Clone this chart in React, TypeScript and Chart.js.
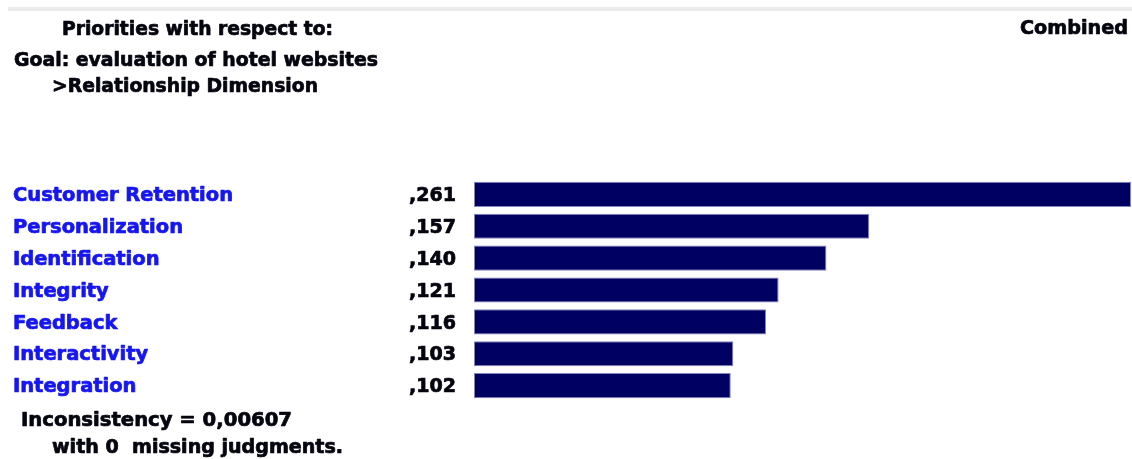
import React, { useEffect, useRef } from "react";
import { Chart, registerables } from "chart.js";

Chart.register(...registerables);

const categories = [
  "Customer Retention",
  "Personalization",
  "Identification",
  "Integrity",
  "Feedback",
  "Interactivity",
  "Integration",
];
const priorities = [0.261, 0.157, 0.14, 0.121, 0.116, 0.103, 0.102];
const valueLabels = [",261", ",157", ",140", ",121", ",116", ",103", ",102"];

const headerLine1 = "Priorities with respect to:";
const headerLine2 = "Goal: evaluation of hotel websites";
const headerLine3 = ">Relationship Dimension";
const headerRight = "Combined";
const footerLine1 = "Inconsistency = 0,00607";
const footerLine2 = "with 0  missing judgments.";

const FAMILY = '"DejaVu Sans", sans-serif';
const SIZE = 18.6;
const CAP = 0.729;

function measure(ctx: CanvasRenderingContext2D, text: string) {
  ctx.font = `bold ${SIZE}px ${FAMILY}`;
  return ctx.measureText(text).width;
}

const textPlugin = {
  id: "ahpText",
  beforeDraw(chart: any) {
    const ctx: CanvasRenderingContext2D = chart.ctx;
    ctx.save();
    ctx.fillStyle = "#ececec";
    ctx.fillRect(8, 7, chart.width - 8, 4);
    ctx.restore();
  },
  afterDraw(chart: any) {
    const ctx: CanvasRenderingContext2D = chart.ctx;
    const yScale = chart.scales.y;
    ctx.textBaseline = "alphabetic";

    const drawScaled = (
      text: string,
      left: number,
      sx: number,
      baseline: number,
      color: string,
      alignRight = false
    ) => {
      ctx.save();
      ctx.font = `bold ${SIZE}px ${FAMILY}`;
      ctx.fillStyle = color;
      ctx.strokeStyle = color;
      ctx.lineWidth = 0.7;
      ctx.lineJoin = "round";
      ctx.textAlign = alignRight ? "right" : "left";
      ctx.translate(left, baseline);
      ctx.scale(sx, 1);
      ctx.fillText(text, 0, 0);
      ctx.strokeText(text, 0, 0);
      ctx.restore();
    };
    const drawFit = (text: string, left: number, width: number, baseline: number, color: string) => {
      const sx = width / measure(ctx, text);
      drawScaled(text, left, sx, baseline, color);
    };

    const dark = "#05050f";
    drawFit(headerLine1, 62, 271, 35, dark);
    drawFit(headerLine2, 14, 364, 66, dark);
    drawFit(headerLine3, 52, 266, 91.7, dark);
    drawFit(headerRight, 1020, 108, 33.5, dark);
    drawFit(footerLine1, 21, 271, 425.5, dark);
    drawFit(footerLine2, 52, 291, 453, dark);

    const labelSx = 220 / measure(ctx, categories[0]);
    const valueSx = 47 / measure(ctx, valueLabels[0]);
    const half = SIZE * CAP * 0.5;
    categories.forEach((c, i) => {
      const yc = yScale.getPixelForValue(i);
      drawScaled(c, 13, labelSx, yc + half, "#1616f2");
      drawScaled(valueLabels[i], 456, valueSx, yc + half, dark, true);
    });
  },
};

export default function App() {
  const ref = useRef<HTMLCanvasElement | null>(null);
  useEffect(() => {
    if (!ref.current) return;
    const chart = new Chart(ref.current, {
      type: "bar",
      data: {
        labels: categories,
        datasets: [
          {
            data: priorities,
            backgroundColor: "#000063",
            borderColor: "#8585bd",
            borderWidth: 1,
            borderSkipped: false,
            categoryPercentage: 1,
            barPercentage: 0.79,
          },
        ],
      },
      options: {
        indexAxis: "y",
        animation: false,
        responsive: false,
        maintainAspectRatio: false,
        layout: { padding: { left: 474, right: 1, top: 178.5, bottom: 57.5 } },
        scales: {
          x: { display: false, min: 0, max: 0.261 },
          y: { display: false },
        },
        plugins: {
          legend: { display: false },
          tooltip: { enabled: false },
          title: { display: false },
        },
      },
      plugins: [textPlugin],
    });
    return () => chart.destroy();
  }, []);
  return (
    <div style={{ position: "absolute", left: 0, top: 0, width: 1132, height: 459, background: "#fff" }}>
      <canvas ref={ref} width={1132} height={459} style={{ display: "block" }} />
    </div>
  );
}
